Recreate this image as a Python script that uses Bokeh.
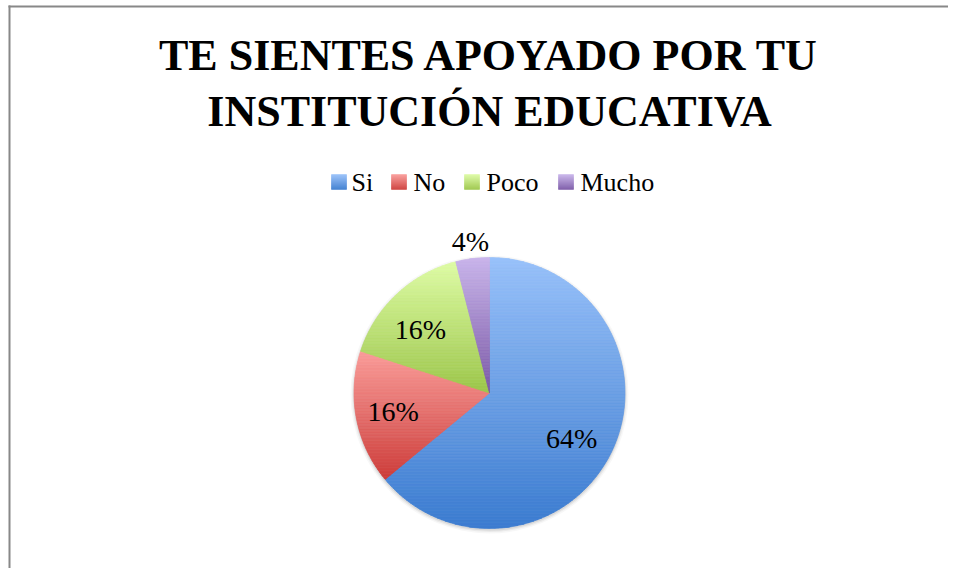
import numpy as np
from bokeh.plotting import figure
from bokeh.models import ColumnDataSource, Label, Range1d
from bokeh.core.properties import value
from bokeh.embed import file_html
from bokeh.resources import INLINE

# ---------------- data ----------------
categories = ["Si", "No", "Poco", "Mucho"]
percent = [64, 16, 16, 4]
pct_labels = ["64%", "16%", "16%", "4%"]
top_colors = ["#98c1fa", "#fa9d9a", "#defca5", "#c9b5eb"]
bottom_colors = ["#3c7cd0", "#cd3d3a", "#9cc64a", "#7a58a6"]
title_lines = ["TE SIENTES APOYADO POR TU", "INSTITUCIÓN EDUCATIVA"]

# ---------------- layout ----------------
W, H = 948, 568


def px(xp):
    return xp


def py(yp):
    return H - yp


CX, CY, R = px(489), py(392.5), 135.5
label_shift_deg = [-4, 0, 4, 0]
label_rad = [94, 98, 94, 153]
legend_sq_x = [331, 391, 464, 558]
legend_txt_x = [351, 413, 486, 580]
SERIF = "Liberation Serif"


def hex2rgb(h):
    h = h.lstrip("#")
    return np.array([int(h[i:i + 2], 16) for i in (0, 2, 4)], dtype=float)


def mix(c0, c1, t):
    c = hex2rgb(c0) * (1 - t) + hex2rgb(c1) * t
    return "#%02x%02x%02x" % tuple(int(round(v)) for v in c)


def clip_band(pts, ylo, yhi):
    def clip(pts, inside, yc):
        out = []
        n = len(pts)
        for i in range(n):
            cur, prev = pts[i], pts[i - 1]
            ci, pi = inside(cur), inside(prev)
            if ci:
                if not pi:
                    t = (yc - prev[1]) / (cur[1] - prev[1])
                    out.append((prev[0] + t * (cur[0] - prev[0]), yc))
                out.append(cur)
            elif pi:
                t = (yc - prev[1]) / (cur[1] - prev[1])
                out.append((prev[0] + t * (cur[0] - prev[0]), yc))
        return out
    pts = clip(pts, lambda p: p[1] >= ylo, ylo)
    if len(pts) < 3:
        return None
    pts = clip(pts, lambda p: p[1] <= yhi, yhi)
    if len(pts) < 3:
        return None
    return pts


p = figure(width=W, height=H, output_backend="svg", toolbar_location=None,
           x_range=Range1d(0, W), y_range=Range1d(0, H),
           x_axis_type=None, y_axis_type=None, min_border=0,
           outline_line_color=None, background_fill_color="white",
           border_fill_color="white")
p.grid.visible = False

# chart frame (left and top edges visible in the reference)
p.line(x=[px(9), px(9)], y=[0, py(5)], line_color="#888888", line_width=2)
p.line(x=[px(8), W], y=[py(6), py(6)], line_color="#888888", line_width=2)

# soft shadow
for dr, a in [(3.5, 0.03), (2.0, 0.05), (0.8, 0.07)]:
    p.circle(x=[CX], y=[CY - 1.5], radius=R + dr, fill_color="black",
             fill_alpha=a, line_alpha=0)

# pie slices with vertical gradient (drawn as thin horizontal bands)
fracs = np.array(percent, dtype=float) / sum(percent)
xs_all, ys_all, cols_all = [], [], []
start = 90.0
mids = []
for i, f in enumerate(fracs):
    end = start - f * 360.0
    mids.append((start + end) / 2)
    n = max(3, int(abs(start - end) * 2))
    ang = np.radians(np.linspace(start, end, n))
    poly = [(CX, CY)] + [(CX + R * np.cos(a), CY + R * np.sin(a)) for a in ang]
    ymin = min(q[1] for q in poly)
    ymax = max(q[1] for q in poly)
    nb = int(np.ceil((ymax - ymin) / 1.5))
    edges = np.linspace(ymin, ymax, nb + 1)
    for k in range(nb):
        lo, hi = edges[k], edges[k + 1]
        band = clip_band(poly, lo, hi)
        if band is None:
            continue
        t = (ymax - (lo + hi) / 2) / (ymax - ymin)
        xs_all.append([q[0] for q in band])
        ys_all.append([q[1] for q in band])
        cols_all.append(mix(top_colors[i], bottom_colors[i], t))
    start = end

p.patches(xs=xs_all, ys=ys_all, fill_color=cols_all, line_color=cols_all,
          line_width=0.7)

# percentage labels
lx, ly = [], []
for i, m in enumerate(mids):
    a = np.radians(m + label_shift_deg[i])
    lx.append(CX + label_rad[i] * np.cos(a))
    ly.append(CY + label_rad[i] * np.sin(a))
lab_src = ColumnDataSource(dict(x=lx, y=ly, text=pct_labels))
p.text(x="x", y="y", text="text", source=lab_src, text_align="center",
       text_baseline="middle", text_font=value(SERIF), text_font_size="28px",
       text_color="black")

# legend: gradient squares + names
sq = 15
lq_l, lq_r, lq_b, lq_t, lq_c = [], [], [], [], []
for i, c in enumerate(categories):
    x0 = px(legend_sq_x[i])
    ytop = py(174)
    for k in range(sq):
        t = (k + 0.5) / sq
        lq_l.append(x0)
        lq_r.append(x0 + sq)
        lq_t.append(ytop - k)
        lq_b.append(ytop - k - 1)
        lq_c.append(mix(top_colors[i], bottom_colors[i], t))
p.quad(left=lq_l, right=lq_r, bottom=lq_b, top=lq_t, fill_color=lq_c,
       line_color=lq_c, line_width=0.5)
leg_src = ColumnDataSource(dict(x=[px(v) for v in legend_txt_x],
                                y=[py(181.5)] * len(categories),
                                text=categories))
p.text(x="x", y="y", text="text", source=leg_src, text_align="left",
       text_baseline="middle", text_font=value(SERIF),
       text_font_size="26px", text_color="black")

# title
for j, (line, mid) in enumerate(zip(title_lines, [54.5, 111])):
    p.add_layout(Label(x=px(489), y=py(mid), text=line, text_align="center",
                       text_baseline="middle", text_font=SERIF,
                       text_font_style="bold", text_font_size="44px",
                       text_color="black"))

open("out.html", "w").write(file_html(p, INLINE))
